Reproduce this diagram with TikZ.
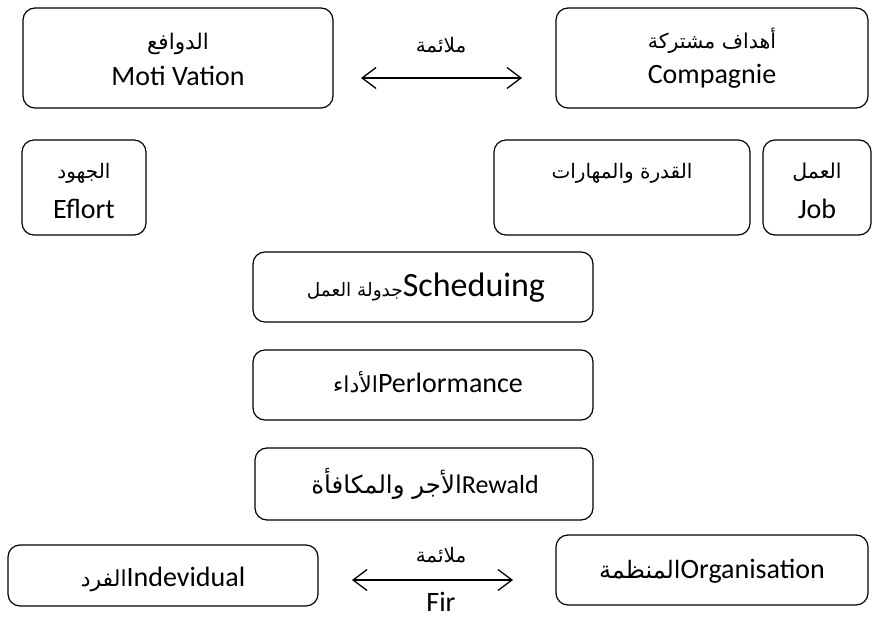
\documentclass[tikz,border=0pt]{standalone}
\usepackage{fontspec}
\setmainfont{Carlito}
\newfontfamily\arabicfont[Script=Arabic]{DejaVu Sans}
\TeXXeTstate=1
\usetikzlibrary{arrows.meta}
\newcommand{\artxt}[2][20]{{\fontsize{#1}{#1}\arabicfont\beginR #2\endR}}
\begin{document}
\begin{tikzpicture}[x=1pt,y=-1pt,
  box/.style={draw, line width=1.2pt, rounded corners=12pt, inner sep=0pt},
  txt/.style={inner sep=0pt, anchor=base, font=\fontsize{28}{30}\selectfont},
  conn/.style={line width=1.3pt, {Straight Barb[length=14pt,width=21pt]}-{Straight Barb[length=14pt,width=21pt]}}]
\useasboundingbox (0,0) rectangle (877,617);
% boxes
\node[box, minimum width=310pt, minimum height=100pt] (motiv) at (178,58) {};
\node[box, minimum width=312pt, minimum height=100pt] (comp) at (712,58) {};
\node[box, minimum width=124pt, minimum height=95pt] (eff) at (84,187.5) {};
\node[box, minimum width=256pt, minimum height=95pt] (abil) at (622,187.5) {};
\node[box, minimum width=108pt, minimum height=95pt] (job) at (817,187.5) {};
\node[box, minimum width=340pt, minimum height=70pt] (sched) at (423,287) {};
\node[box, minimum width=340pt, minimum height=70pt] (perf) at (423,385) {};
\node[box, minimum width=338pt, minimum height=72pt] (rew) at (424,484) {};
\node[box, minimum width=310pt, minimum height=61pt] (indiv) at (163,575.5) {};
\node[box, minimum width=312pt, minimum height=70pt] (org) at (712,570) {};
% texts
\node[txt] (t1a) at (178,50) {\artxt[21.5]{الدوافع}};
\node[txt] (t1b) at (178,86) {Moti Vation};
\node[txt] (t2a) at (712,49) {\artxt[20.5]{أهداف مشتركة}};
\node[txt] (t2b) at (712,84) {Compagnie};
\node[txt] (t3a) at (84,179) {\artxt[20]{الجهود}};
\node[txt] (t3b) at (84,219) {Eflort};
\node[txt] (t4a) at (622,179) {\artxt[20]{القدرة والمهارات}};
\node[txt] (t5a) at (817,179) {\artxt[20.5]{العمل}};
\node[txt] (t5b) at (817,219) {Job};
\node[txt] (t6) at (426,297) {\artxt[18.5]{جدولة العمل}{\fontsize{34}{36}\selectfont Scheduing}};
\node[txt] (t7) at (428,392) {\artxt[22]{الأداء}Perlormance};
\node[txt] (t8) at (425,493) {\artxt[24.5]{الأجر والمكافأة}{\fontsize{26}{28}\selectfont Rewald}};
\node[txt] (t9) at (163,586) {\artxt[22]{الفرد}Indevidual};
\node[txt] (t10) at (712,578) {\artxt[24]{المنظمة}Organisation};
% connectors
\coordinate (a1) at (361,78);
\coordinate (a2) at (522,78);
\coordinate (b1) at (352,580);
\coordinate (b2) at (513,580);
\draw[conn] (a1) -- (a2);
\draw[conn] (b1) -- (b2);
\node[txt] (l1) at (441,53) {\artxt[20]{ملائمة}};
\node[txt] (l2) at (441,562) {\artxt[20]{ملائمة}};
\node[txt] (l3) at (441,611) {Fir};
\end{tikzpicture}
\end{document}
